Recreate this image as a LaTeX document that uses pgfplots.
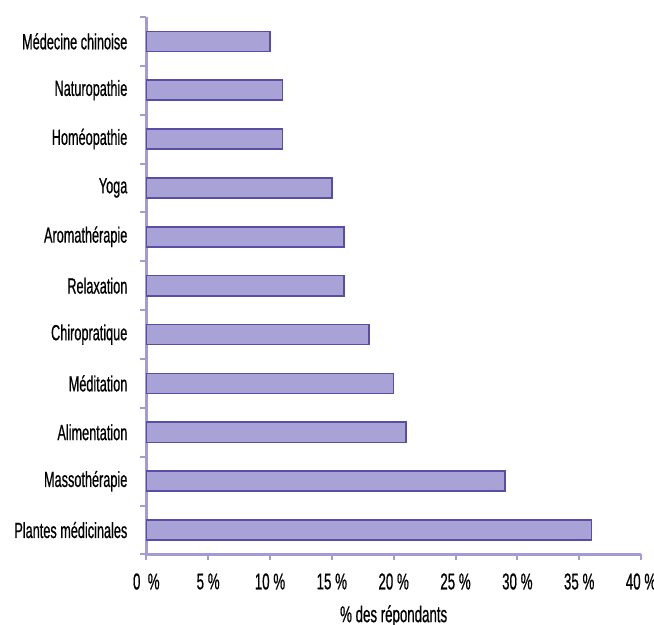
\documentclass[border=0pt]{standalone}
\usepackage{fontspec}
\setmainfont{Liberation Sans}[FakeStretch=0.58,FakeBold=0.6]
\usepackage{pgfplots}
\pgfplotsset{compat=1.18}
\definecolor{barfill}{RGB}{168,162,214}
\definecolor{bardraw}{RGB}{88,78,165}
\definecolor{axcol}{RGB}{165,155,210}
\begin{document}
\begin{tikzpicture}[x=0.5pt,y=0.5pt]
\useasboundingbox (-73.5pt,-35pt) rectangle (255pt,278.5pt);
\begin{axis}[
  at={(0pt,0pt)}, anchor=south west,
  scale only axis,
  width=248.5pt, height=270pt,
  xbar, bar width=0.41,
  xmin=0, xmax=40, ymin=-0.5, ymax=10.5,
  axis lines*=left,
  axis line style={axcol, line width=1.2pt},
  xtick={0,5,...,40},
  xticklabels={0~~\%,5\,\%,10\,\%,15\,\%,20\,\%,25\,\%,30\,\%,35\,\%,40\,\%},
  major tick length=3pt,
  tick style={axcol, line width=1pt},
  tick align=outside,
  ytick={-0.5,0.5,...,10.5},
  yticklabels={},
  extra y ticks={0,...,10},
  extra y tick labels={Plantes médicinales,Massothérapie,Alimentation,Méditation,Chiropratique,Relaxation,Aromathérapie,Yoga,Homéopathie,Naturopathie,Médecine chinoise},
  extra y tick style={tick style={draw=none}},
  yticklabel style={font=\fontsize{11}{13}\selectfont, xshift=-3pt},
  xticklabel style={font=\fontsize{11.5}{13}\selectfont, yshift=-3pt},
  xlabel={\% des répondants},
  xlabel style={font=\fontsize{11.5}{13}\selectfont, yshift=-1pt},
  clip=false,
]
\addplot[fill=barfill, draw=bardraw, line width=0.8pt] coordinates {
 (36,0) (29,1) (21,2) (20,3) (18,4) (16,5) (16,6) (15,7) (11,8) (11,9) (10,10)};
\end{axis}
\end{tikzpicture}
\end{document}
